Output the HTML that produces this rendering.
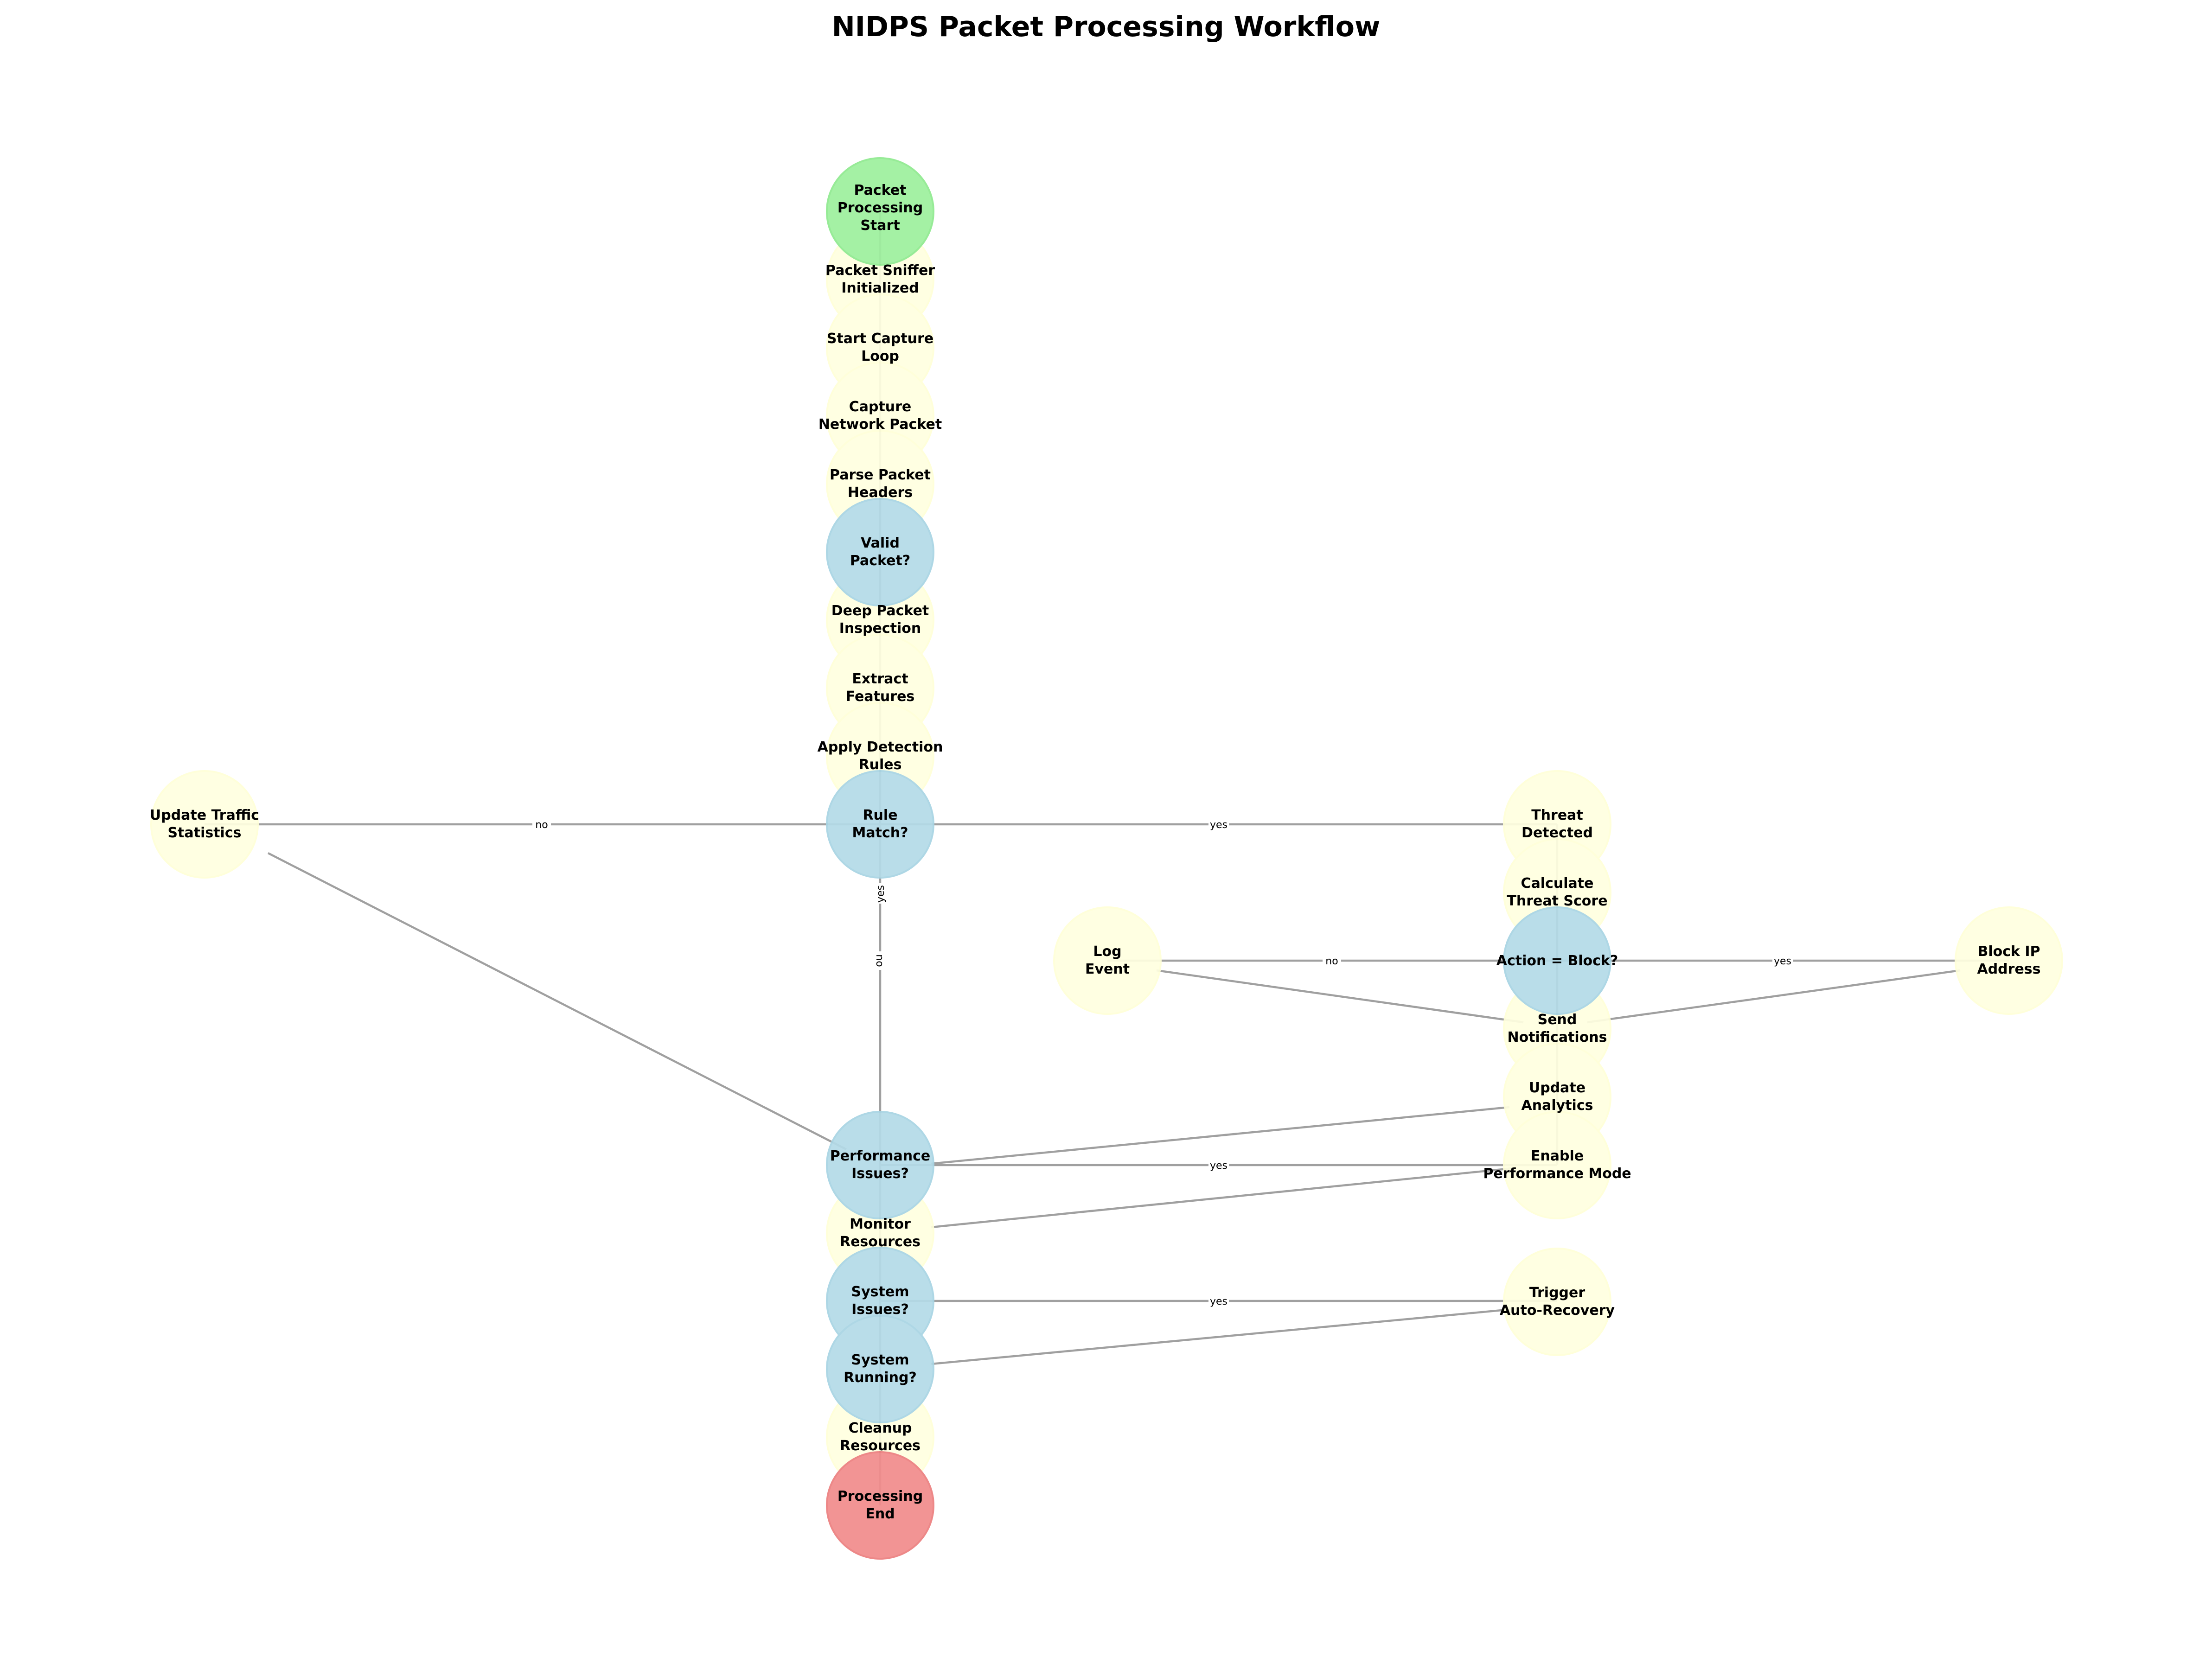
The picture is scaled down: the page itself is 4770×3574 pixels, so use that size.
<!DOCTYPE html>
<html><head><meta charset="utf-8"><style>
html,body{margin:0;padding:0;background:#fff}
svg{display:block}
.n{font-family:"DejaVu Sans","Liberation Sans",sans-serif;font-weight:bold;font-size:30px;text-anchor:middle;fill:#000}
.l{font-family:"DejaVu Sans","Liberation Sans",sans-serif;font-size:22px;text-anchor:middle;fill:#000}
</style></head><body>
<svg width="4770" height="3574" viewBox="0 0 4770 3574" xmlns="http://www.w3.org/2000/svg">
<text x="2385" y="78" style="font-family:'DejaVu Sans','Liberation Sans',sans-serif;font-weight:bold;font-size:60px;text-anchor:middle">NIDPS Packet Processing Workflow</text>
<g stroke="#a0a0a0" stroke-width="4.5" fill="none">
<line x1="1898" y1="456" x2="1898" y2="3247"/>
<line x1="441" y1="1778" x2="3358" y2="1778"/>
<line x1="3358" y1="1778" x2="3358" y2="2513"/>
<line x1="2388" y1="2072" x2="4332" y2="2072"/>
<line x1="1898" y1="2513" x2="3358" y2="2513"/>
<line x1="1898" y1="2806" x2="3358" y2="2806"/>
<line x1="578" y1="1840" x2="1825" y2="2479"/>
<line x1="3255" y1="2388" x2="2008" y2="2510"/>
<line x1="2008" y1="2647" x2="3270" y2="2519"/>
<line x1="2008" y1="2942" x2="3270" y2="2823"/>
<line x1="2494" y1="2093" x2="3285" y2="2205"/>
<line x1="4227" y1="2093" x2="3423" y2="2205"/>
</g>
<g class="l">
<rect x="1148" y="1766" width="40" height="24" fill="#fff"/><text x="1168" y="1786">no</text>
<rect x="2606" y="1766" width="44" height="24" fill="#fff"/><text x="2628" y="1786">yes</text>
<rect x="2852" y="2060" width="40" height="24" fill="#fff"/><text x="2872" y="2080">no</text>
<rect x="3822" y="2060" width="44" height="24" fill="#fff"/><text x="3844" y="2080">yes</text>
<rect x="2606" y="2501" width="44" height="24" fill="#fff"/><text x="2628" y="2521">yes</text>
<rect x="2606" y="2794" width="44" height="24" fill="#fff"/><text x="2628" y="2814">yes</text>
<rect x="1886" y="1905" width="24" height="44" fill="#fff"/><text transform="translate(1906,1928) rotate(-90)">yes</text>
<rect x="1886" y="2052" width="24" height="40" fill="#fff"/><text transform="translate(1890,2072) rotate(90)">no</text>
</g>
<g opacity="0.93" stroke-width="4">
<g fill="#ffffe0" stroke="#ffffd8">
<circle cx="1898" cy="603" r="115"/><circle cx="1898" cy="750" r="115"/><circle cx="1898" cy="897" r="115"/>
<circle cx="1898" cy="1044" r="115"/><circle cx="1898" cy="1337" r="115"/><circle cx="1898" cy="1484" r="115"/>
<circle cx="1898" cy="1631" r="115"/><circle cx="1898" cy="2660" r="115"/><circle cx="1898" cy="3100" r="115"/>
<circle cx="441" cy="1778" r="115"/><circle cx="3358" cy="1778" r="115"/><circle cx="3358" cy="1925" r="115"/>
<circle cx="3358" cy="2219" r="115"/><circle cx="3358" cy="2366" r="115"/><circle cx="3358" cy="2513" r="115"/>
<circle cx="3358" cy="2808" r="115"/><circle cx="2388" cy="2072" r="115"/><circle cx="4332" cy="2072" r="115"/>
</g>
<g fill="#b4dbe8" stroke="#a8d5e4">
<circle cx="1898" cy="1191" r="115"/><circle cx="1898" cy="1778" r="115"/><circle cx="3358" cy="2072" r="115"/>
<circle cx="1898" cy="2513" r="115"/><circle cx="1898" cy="2806" r="115"/><circle cx="1898" cy="2953" r="115"/>
</g>
<circle cx="1898" cy="456" r="115" fill="#9ef09e" stroke="#90ea90"/>
<circle cx="1898" cy="3247" r="115" fill="#f28c8c" stroke="#ec8080"/>
</g>
<g class="n">
<text x="1898" y="420">Packet</text><text x="1898" y="458">Processing</text><text x="1898" y="496">Start</text>
<text x="1898" y="593">Packet Sniffer</text><text x="1898" y="631">Initialized</text>
<text x="1898" y="740">Start Capture</text><text x="1898" y="778">Loop</text>
<text x="1898" y="887">Capture</text><text x="1898" y="925">Network Packet</text>
<text x="1898" y="1034">Parse Packet</text><text x="1898" y="1072">Headers</text>
<text x="1898" y="1181">Valid</text><text x="1898" y="1219">Packet?</text>
<text x="1898" y="1327">Deep Packet</text><text x="1898" y="1365">Inspection</text>
<text x="1898" y="1474">Extract</text><text x="1898" y="1512">Features</text>
<text x="1898" y="1621">Apply Detection</text><text x="1898" y="1659">Rules</text>
<text x="1898" y="1768">Rule</text><text x="1898" y="1806">Match?</text>
<text x="1898" y="2503">Performance</text><text x="1898" y="2541">Issues?</text>
<text x="1898" y="2650">Monitor</text><text x="1898" y="2688">Resources</text>
<text x="1898" y="2796">System</text><text x="1898" y="2834">Issues?</text>
<text x="1898" y="2943">System</text><text x="1898" y="2981">Running?</text>
<text x="1898" y="3090">Cleanup</text><text x="1898" y="3128">Resources</text>
<text x="1898" y="3237">Processing</text><text x="1898" y="3275">End</text>
<text x="441" y="1768">Update Traffic</text><text x="441" y="1806">Statistics</text>
<text x="3358" y="1768">Threat</text><text x="3358" y="1806">Detected</text>
<text x="3358" y="1915">Calculate</text><text x="3358" y="1953">Threat Score</text>
<text x="3358" y="2082">Action = Block?</text>
<text x="3358" y="2209">Send</text><text x="3358" y="2247">Notifications</text>
<text x="3358" y="2356">Update</text><text x="3358" y="2394">Analytics</text>
<text x="3358" y="2503">Enable</text><text x="3358" y="2541">Performance Mode</text>
<text x="3358" y="2798">Trigger</text><text x="3358" y="2836">Auto-Recovery</text>
<text x="2388" y="2062">Log</text><text x="2388" y="2100">Event</text>
<text x="4332" y="2062">Block IP</text><text x="4332" y="2100">Address</text>
</g>
</svg>
</body></html>
